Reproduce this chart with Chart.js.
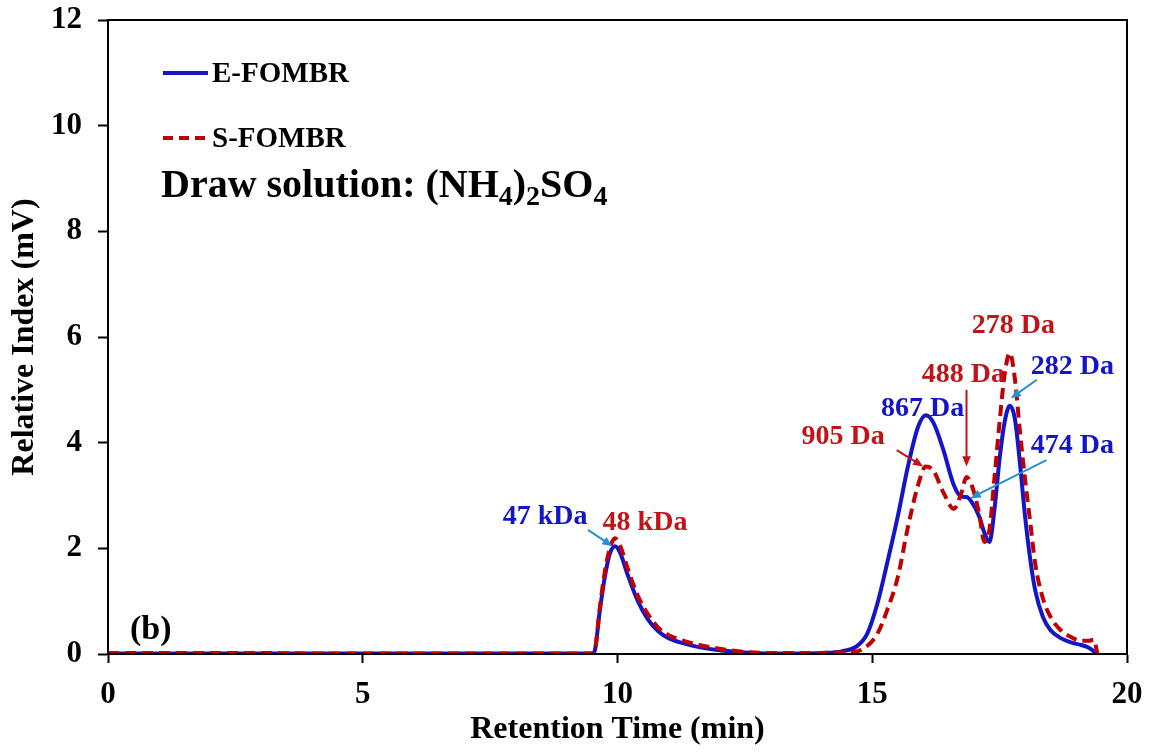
<!DOCTYPE html>
<html>
<head>
<meta charset="utf-8">
<script src="https://cdn.jsdelivr.net/npm/chart.js@4.4.1/dist/chart.umd.min.js"></script>
<style>
  html, body { margin: 0; padding: 0; background: #fff; }
  #canvas { display: block; }
</style>
</head>
<body>
<canvas id="canvas" width="1150" height="756"></canvas>
<script>
// retention time (min) and detector response (mV) for both reactors
var time = [0, 1, 2, 3, 4, 5, 6, 7, 8, 9, 9.5, 9.55, 9.65, 9.75, 9.85, 9.95, 10.05, 10.2, 10.4, 10.6, 10.8, 11.0, 11.3, 11.6, 12, 12.5, 13, 13.5, 14, 14.4, 14.7, 14.9, 15.1, 15.3, 15.5, 15.7, 15.9, 16.05, 16.2, 16.4, 16.6, 16.75, 16.85, 16.95, 17.1, 17.2, 17.3, 17.4, 17.5, 17.6, 17.7, 17.8, 17.9, 18.0, 18.1, 18.2, 18.35, 18.5, 18.7, 18.9, 19.1, 19.25, 19.35, 19.42];
var eFombr = [0.01, 0.01, 0.01, 0.01, 0.01, 0.01, 0.01, 0.01, 0.01, 0.01, 0.01, 0.05, 0.8, 1.45, 1.9, 2.04, 1.92, 1.5, 1.0, 0.65, 0.43, 0.3, 0.2, 0.13, 0.07, 0.03, 0.01, 0.01, 0.02, 0.05, 0.15, 0.38, 0.95, 1.75, 2.6, 3.55, 4.3, 4.52, 4.38, 3.85, 3.2, 2.98, 2.97, 2.88, 2.6, 2.3, 2.12, 2.75, 3.7, 4.4, 4.7, 4.45, 3.6, 2.6, 1.8, 1.2, 0.7, 0.45, 0.3, 0.22, 0.17, 0.12, 0.05, 0];
var sFombr = [0.02, 0.02, 0.02, 0.02, 0.01, 0.01, 0.01, 0.01, 0.01, 0.01, 0.01, 0.05, 0.85, 1.55, 2.0, 2.19, 2.05, 1.62, 1.1, 0.75, 0.5, 0.36, 0.25, 0.17, 0.1, 0.04, 0.02, 0.02, 0.02, 0.03, 0.05, 0.15, 0.38, 0.85, 1.45, 2.4, 3.2, 3.55, 3.47, 3.05, 2.75, 3.05, 3.35, 3.2, 2.65, 2.12, 2.35, 3.35, 4.4, 5.3, 5.7, 5.2, 4.2, 3.3, 2.5, 1.7, 1.05, 0.7, 0.45, 0.32, 0.25, 0.25, 0.27, 0];

// peak molecular weight labels, in data coordinates
var peakLabels = [
  { text: '47 kDa', x: 8.58, y: 2.59, color: '#1515c8' },
  { text: '48 kDa', x: 10.54, y: 2.48, color: '#c0131a' },
  { text: '867 Da', x: 15.99, y: 4.65, color: '#1515c8' },
  { text: '905 Da', x: 14.43, y: 4.11, color: '#c0131a' },
  { text: '488 Da', x: 16.79, y: 5.28, color: '#c0131a' },
  { text: '278 Da', x: 17.77, y: 6.21, color: '#c0131a' },
  { text: '282 Da', x: 18.93, y: 5.44, color: '#1515c8' },
  { text: '474 Da', x: 18.93, y: 3.94, color: '#1515c8' }
];
var peakArrows = [
  { x0: 9.42, y0: 2.35, x1: 9.9, y1: 2.04, color: '#2a8fd0' },
  { x0: 15.48, y0: 3.86, x1: 16.0, y1: 3.55, color: '#c0131a' },
  { x0: 16.85, y0: 5.0, x1: 16.85, y1: 3.55, color: '#c0131a' },
  { x0: 18.23, y0: 5.19, x1: 17.72, y1: 4.84, color: '#2a8fd0' },
  { x0: 18.42, y0: 3.67, x1: 16.93, y1: 2.95, color: '#2a8fd0' }
];

var BLUE = '#1414c8';
var RED = '#c00000';
var SERIF = "'Liberation Serif', 'Times New Roman', serif";

function points(ys) {
  var out = [];
  for (var i = 0; i < time.length; i++) {
    out.push({ x: time[i], y: ys[i] });
  }
  return out;
}

function drawArrow(ctx, x0, y0, x1, y1, color) {
  var ang = Math.atan2(y1 - y0, x1 - x0);
  var head = 11;
  ctx.save();
  ctx.strokeStyle = color;
  ctx.fillStyle = color;
  ctx.lineWidth = 2;
  ctx.beginPath();
  ctx.moveTo(x0, y0);
  ctx.lineTo(x1 - Math.cos(ang) * head * 0.8, y1 - Math.sin(ang) * head * 0.8);
  ctx.stroke();
  ctx.beginPath();
  ctx.moveTo(x1, y1);
  ctx.lineTo(x1 - head * Math.cos(ang - 0.4), y1 - head * Math.sin(ang - 0.4));
  ctx.lineTo(x1 - head * Math.cos(ang + 0.4), y1 - head * Math.sin(ang + 0.4));
  ctx.closePath();
  ctx.fill();
  ctx.restore();
}

// frame, legend, caption and peak annotations
var decorations = {
  id: 'decorations',
  afterDraw: function (chart) {
    var ctx = chart.ctx;
    var a = chart.chartArea;
    var xs = chart.scales.x, ys = chart.scales.y;

    ctx.save();
    ctx.strokeStyle = '#000';
    ctx.lineWidth = 2;
    ctx.strokeRect(a.left, a.top, a.right - a.left, a.bottom - a.top);

    // legend
    ctx.lineWidth = 4;
    ctx.strokeStyle = BLUE;
    ctx.beginPath();
    ctx.moveTo(163, 73);
    ctx.lineTo(208, 73);
    ctx.stroke();
    ctx.strokeStyle = RED;
    ctx.setLineDash([10, 6]);
    ctx.beginPath();
    ctx.moveTo(163, 138);
    ctx.lineTo(208, 138);
    ctx.stroke();
    ctx.setLineDash([]);

    ctx.fillStyle = '#000';
    ctx.textBaseline = 'middle';
    ctx.textAlign = 'left';
    ctx.font = 'bold 29px ' + SERIF;
    ctx.fillText('E-FOMBR', 212, 75);
    ctx.fillText('S-FOMBR', 212, 140);

    // draw solution caption with subscripts
    ctx.textBaseline = 'alphabetic';
    var big = 'bold 40px ' + SERIF, small = 'bold 28px ' + SERIF;
    var parts = [['Draw solution: (NH', 0], ['4', 1], [')', 0], ['2', 1], ['SO', 0], ['4', 1]];
    var cx = 161;
    parts.forEach(function (p) {
      ctx.font = p[1] ? small : big;
      ctx.fillText(p[0], cx, p[1] ? 205 : 197);
      cx += ctx.measureText(p[0]).width;
    });

    ctx.font = 'bold 34px ' + SERIF;
    ctx.fillText('(b)', 130, 639);

    // peak arrows and labels
    peakArrows.forEach(function (p) {
      drawArrow(ctx, xs.getPixelForValue(p.x0), ys.getPixelForValue(p.y0),
        xs.getPixelForValue(p.x1), ys.getPixelForValue(p.y1), p.color);
    });
    ctx.font = 'bold 28px ' + SERIF;
    ctx.textAlign = 'center';
    ctx.textBaseline = 'middle';
    peakLabels.forEach(function (l) {
      ctx.fillStyle = l.color;
      ctx.fillText(l.text, xs.getPixelForValue(l.x), ys.getPixelForValue(l.y));
    });
    ctx.restore();
  }
};

new Chart(document.getElementById('canvas'), {
  type: 'line',
  data: {
    datasets: [{
      label: 'S-FOMBR',
      data: points(sFombr),
      borderColor: RED,
      borderWidth: 4,
      borderDash: [11, 6],
      pointRadius: 0,
      cubicInterpolationMode: 'monotone',
      order: 0
    }, {
      label: 'E-FOMBR',
      data: points(eFombr),
      borderColor: BLUE,
      borderWidth: 4,
      pointRadius: 0,
      cubicInterpolationMode: 'monotone',
      order: 1
    }]
  },
  options: {
    responsive: false,
    animation: false,
    devicePixelRatio: 1,
    layout: { padding: { top: 20, right: 23, left: 0, bottom: 0 } },
    plugins: {
      legend: { display: false },
      tooltip: { enabled: false }
    },
    scales: {
      x: {
        type: 'linear',
        min: 0,
        max: 20,
        afterFit: function (s) {
          s.height = 102;
          s.paddingLeft = 0;
          s.paddingRight = 0;
        },
        ticks: {
          stepSize: 5,
          color: '#000',
          padding: 13,
          font: { family: SERIF, size: 31, weight: 'bold' }
        },
        grid: { drawOnChartArea: false, drawTicks: true, tickLength: 9, tickColor: '#000', tickWidth: 2 },
        border: { display: true, color: '#000', width: 2 },
        title: {
          display: true,
          text: 'Retention Time (min)',
          color: '#000',
          padding: { top: 0, bottom: 7 },
          font: { family: SERIF, size: 32, weight: 'bold' }
        }
      },
      y: {
        min: 0,
        max: 12,
        afterFit: function (s) {
          s.width = 108;
          s.paddingTop = 0;
          s.paddingBottom = 0;
        },
        ticks: {
          stepSize: 2,
          color: '#000',
          padding: 16,
          font: { family: SERIF, size: 31, weight: 'bold' }
        },
        grid: { drawOnChartArea: false, drawTicks: true, tickLength: 10, tickColor: '#000', tickWidth: 2 },
        border: { display: true, color: '#000', width: 2 },
        title: {
          display: true,
          text: 'Relative Index (mV)',
          color: '#000',
          padding: { top: 6, bottom: 0 },
          font: { family: SERIF, size: 32, weight: 'bold' }
        }
      }
    }
  },
  plugins: [decorations]
});
</script>
</body>
</html>
